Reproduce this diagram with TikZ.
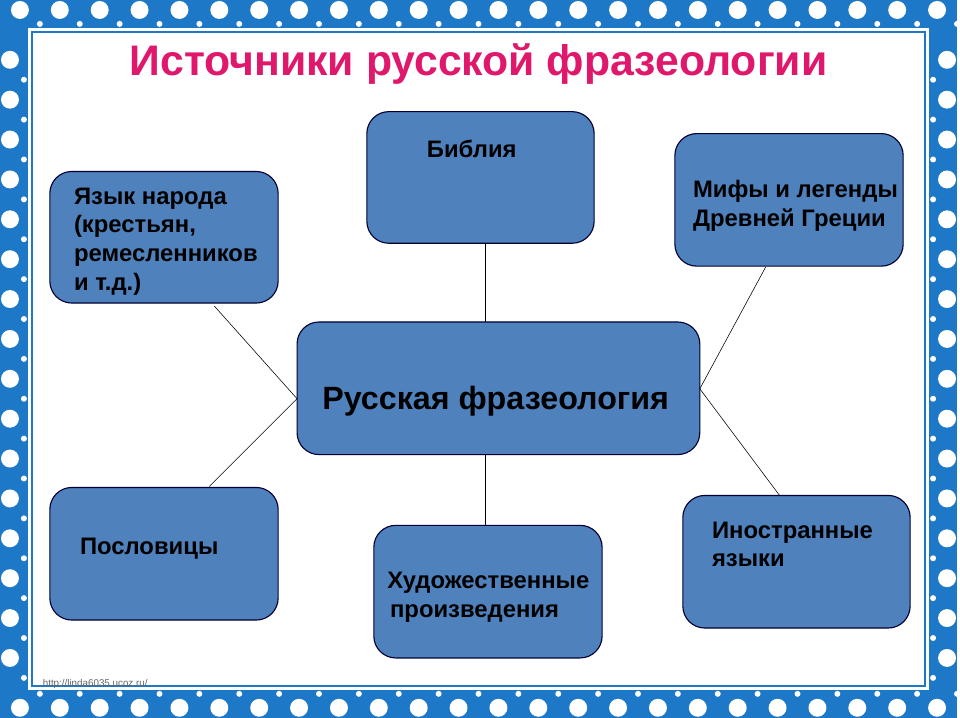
\documentclass[tikz,border=0pt]{standalone}
\usepackage{fontspec}
\setmainfont{Liberation Sans}
\begin{document}
\begin{tikzpicture}[x=0.025cm, y=-0.025cm,
  box/.style={draw=black!80!blue, line width=0.8pt, fill=boxblue, rounded corners=0.55cm},
  lbl/.style={anchor=north west, align=left, font=\bfseries\fontsize{17}{20.5}\selectfont, inner sep=0pt},
  link/.style={draw=black, line width=0.4pt}]
  \definecolor{boxblue}{HTML}{4F81BD}
  \definecolor{frameblue}{HTML}{1E78C8}
  \definecolor{titlecol}{HTML}{E0186C}
  % frame
  \fill[frameblue] (0,0) rectangle (960,720);
  \foreach \x in {20,60,...,940} {
    \fill[white] (\x,10) circle (9); \fill[white] (\x,710) circle (9);
    \fill[white] (\x+20,24) circle (3); \fill[white] (\x+20,696) circle (3);
  }
  \foreach \y in {60,100,...,660} {
    \fill[white] (10,\y) circle (9); \fill[white] (950,\y) circle (9);
    \fill[white] (24,\y+20) circle (3); \fill[white] (936,\y+20) circle (3);
  }
  \fill[white] (28,28) rectangle (932,692);
  \draw[frameblue, line width=1pt] (32,32) rectangle (928,688);
  \node[font=\bfseries\fontsize{30.5}{36}\selectfont, text=titlecol] (title) at (480,64) {Источники русской фразеологии};
  % boxes
  \node[box, minimum width=404*0.025cm, minimum height=133*0.025cm] (center) at (500,389.5) {};
  \node[box, minimum width=229*0.025cm, minimum height=132*0.025cm] (people) at (164.5,238) {};
  \node[box, minimum width=228*0.025cm, minimum height=132*0.025cm] (bible) at (482,178) {};
  \node[box, minimum width=229*0.025cm, minimum height=133*0.025cm] (myths) at (791.5,200.5) {};
  \node[box, minimum width=229*0.025cm, minimum height=133*0.025cm] (proverbs) at (164.5,555.5) {};
  \node[box, minimum width=229*0.025cm, minimum height=133*0.025cm] (fiction) at (489.5,593.5) {};
  \node[box, minimum width=228*0.025cm, minimum height=133*0.025cm] (foreign) at (799,563.5) {};
  % links
  \coordinate (cl) at (298,400); \coordinate (cr) at (702,390);
  \draw[link] (cl) -- (215,307);
  \draw[link] (cl) -- (210,488);
  \draw[link] (487,244) -- (487,323);
  \draw[link] (487,456) -- (487,527);
  \draw[link] (cr) -- (768,268);
  \draw[link] (cr) -- (782,497);
  % labels
  \node[lbl, font=\bfseries\fontsize{23}{27}\selectfont] at (323,387) {Русская фразеология};
  \node[lbl] at (74,188) {Язык народа\\(крестьян,\\ремесленников\\и т.д.)};
  \node[lbl] at (428,140) {Библия};
  \node[lbl] at (695,181) {Мифы и легенды\\Древней Греции};
  \node[lbl] at (80,540) {Пословицы};
  \node[lbl] at (391,574) {\hspace*{-2pt}Художественные\\ произведения};
  \node[lbl] at (714,523) {Иностранные\\языки};
  \node[anchor=west, font=\fontsize{7}{8}\selectfont\rmfamily, text=black!60] (url) at (38,686) {http://linda6035.ucoz.ru/};
\end{tikzpicture}
\end{document}
